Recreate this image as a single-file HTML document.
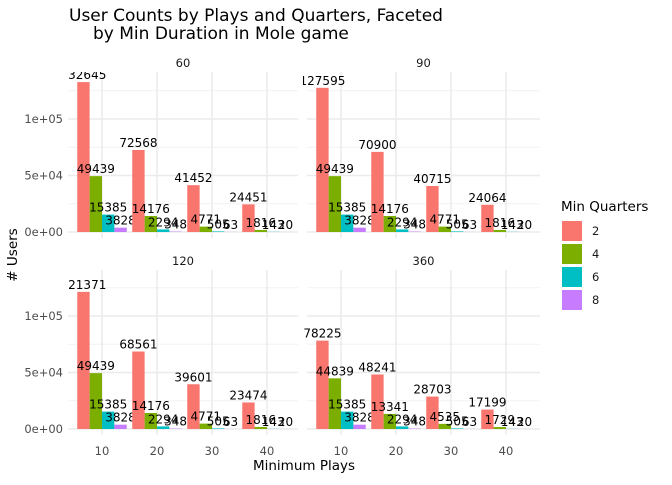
<!DOCTYPE html>
<html><head><meta charset="utf-8"><style>
body{margin:0;background:#fff;font-family:"Liberation Sans","DejaVu Sans",sans-serif}
svg text{font-family:"DejaVu Sans","Liberation Sans",sans-serif}
</style></head><body>
<svg id="c" width="672" height="480" xmlns="http://www.w3.org/2000/svg">
<defs id="defs"></defs>
<text x="69" y="21" font-size="17" fill="#000">User Counts by Plays and Quarters, Faceted</text>
<text x="93" y="39" font-size="17" fill="#000">by Min Duration in Mole game</text>
<text transform="translate(17,255) rotate(-90)" text-anchor="middle" font-size="13.5"># Users</text>
<text x="304" y="470" text-anchor="middle" font-size="13.5">Minimum Plays</text>
<g id="legend"></g>
</svg>
<script>
const facets = ["60","90","120","360"];
const categories = [10,20,30,40];
const quarters = ["2","4","6","8"];
const colors = ["#F8766D","#7CAE00","#00BFC4","#C77CFF"];
const yTicks = [0,50000,100000];
const yTickLabels = ["0e+00","5e+04","1e+05"];
const values60  = [[132645,49439,15385,3828],[72568,14176,2294,348],[41452,4771,505,63],[24451,1816,143,20]];
const values90  = [[127595,49439,15385,3828],[70900,14176,2294,348],[40715,4771,505,63],[24064,1816,143,20]];
const values120 = [[121371,49439,15385,3828],[68561,14176,2294,348],[39601,4771,505,63],[23474,1816,143,20]];
const values360 = [[78225,44839,15385,3828],[48241,13341,2294,348],[28703,4535,505,63],[17199,1729,143,20]];
const allValues = [values60,values90,values120,values360];

const NS="http://www.w3.org/2000/svg";
const svg=document.getElementById('c');
const defs=document.getElementById('defs');
function mk(t,a,p){const e=document.createElementNS(NS,t);for(const k in a)e.setAttribute(k,a[k]);(p||svg).appendChild(e);return e;}
const panels=[{x0:68,x1:298,top:72,zero:232},{x0:307,x1:540,top:72,zero:232},{x0:68,x1:298,top:270,zero:429},{x0:307,x1:540,top:270,zero:429}];
const scale=113/100000, step=55;
panels.forEach((p,pi)=>{
  const cx0 = pi%2===0 ? p.x0 : p.x0-4;
  const cp=mk('clipPath',{id:'clip'+pi},defs);
  mk('rect',{x:cx0,y:p.top,width:672-cx0,height:p.zero+10-p.top},cp);
  const g=mk('g',{});
  
  
  const xc=i=>p.x0+34+i*step;
  const y=v=>p.zero-v*scale;
  const bottom=p.zero+6;
  [25000,75000,125000].forEach(v=>{mk('line',{x1:p.x0,x2:p.x1,y1:y(v),y2:y(v),stroke:'#f2f2f2','stroke-width':1},g);});
  yTicks.forEach(v=>{mk('line',{x1:p.x0,x2:p.x1,y1:y(v),y2:y(v),stroke:'#ebebeb','stroke-width':1.5},g);});
  categories.forEach((c,i)=>{mk('line',{x1:xc(i),x2:xc(i),y1:p.top,y2:bottom,stroke:'#ebebeb','stroke-width':1.5},g);});
  const gc=mk('g',{'clip-path':'url(#clip'+pi+')'},g);
  const st=mk('text',{x:(p.x0+p.x1)/2,y:p.top-5,'text-anchor':'middle','font-size':11.5,fill:'#1a1a1a'},g);
  st.textContent=facets[pi];
  
  
  if(pi%2===0){
    yTicks.forEach((v,k)=>{const t=mk('text',{x:p.x0-5,y:y(v)+4,'text-anchor':'end','font-size':11.5,fill:'#4d4d4d'},g);t.textContent=yTickLabels[k];
      
      });
  }
  if(pi>=2){
    categories.forEach((c,i)=>{const t=mk('text',{x:xc(i),y:455,'text-anchor':'middle','font-size':11.5,fill:'#4d4d4d'},g);t.textContent=c;
      
      });
  }
  const vals=allValues[pi];
  const bw=49.5/4;
  categories.forEach((c,i)=>{
    vals[i].forEach((v,q)=>{
      const bx=xc(i)-24.75+q*bw;
      const r=mk('rect',{x:bx,y:y(v),width:bw,height:v*scale,fill:colors[q]},gc);
      
      
      const t=mk('text',{x:bx+bw/2,y:y(v)-3,'text-anchor':'middle','font-size':12,fill:'#000'},gc);
      t.textContent=v;
      
      
    });
  });
});
const lg=document.getElementById('legend');
const lt=mk('text',{x:561,y:211,'font-size':13.5},lg);lt.textContent='Min Quarters';


quarters.forEach((q,k)=>{
  const r=mk('rect',{x:562,y:221+k*23,width:20,height:20,fill:colors[k]},lg);
  
  
  const t=mk('text',{x:592,y:235+k*23,'font-size':11.5,fill:'#1a1a1a'},lg);t.textContent=q;
  
  
});
</script>
</body></html>
